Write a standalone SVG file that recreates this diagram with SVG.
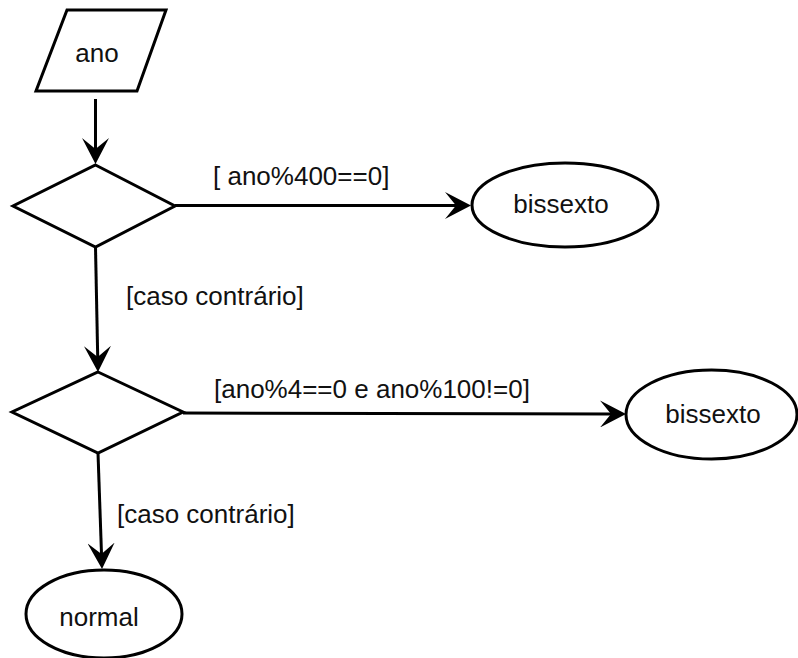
<svg xmlns="http://www.w3.org/2000/svg" width="798" height="658" viewBox="0 0 798 658">
  <style>
    .shape { fill: #ffffff; stroke: #000000; stroke-width: 3; stroke-linejoin: miter; }
    .edge { fill: none; stroke: #000000; stroke-width: 3; marker-end: url(#arrow); }
    text { font-family: "Liberation Sans", Arial, sans-serif; font-size: 26px; fill: #111111; }
    .c { text-anchor: middle; }
  </style>
  <defs>
    <marker id="arrow" viewBox="0 0 26 27" refX="11" refY="13.5" markerWidth="26" markerHeight="27" markerUnits="userSpaceOnUse" orient="auto">
      <path d="M0,0 L26,13.5 L0,27 L11,13.5 Z" fill="#000000"/>
    </marker>
  </defs>
  <rect width="798" height="658" fill="#ffffff"/>

  <!-- connectors -->
  <g id="connectors">
    <line class="edge" x1="95.5" y1="99" x2="95.5" y2="149"/>
    <line class="edge" x1="175" y1="205.5" x2="456" y2="205.5"/>
    <line class="edge" x1="95.5" y1="247" x2="97.7" y2="357"/>
    <line class="edge" x1="183" y1="413" x2="611" y2="414"/>
    <line class="edge" x1="98" y1="453" x2="101.5" y2="554"/>
    <text x="213" y="185">[ ano%400==0]</text>
    <text x="126" y="305">[caso contrário]</text>
    <text x="214" y="398">[ano%4==0 e ano%100!=0]</text>
    <text x="117" y="523">[caso contrário]</text>
  </g>

  <!-- input -->
  <g id="input-ano">
    <polygon class="shape" points="67,10 166,10 137,91 36,91"/>
    <text class="c" x="97" y="62">ano</text>
  </g>

  <!-- decisions -->
  <g id="decision-400">
    <polygon class="shape" points="95.5,165 175,206 95.5,247 13,206"/>
  </g>
  <g id="decision-4-100">
    <polygon class="shape" points="98,372 183,412 98,453 12,412"/>
  </g>

  <!-- outcomes -->
  <g id="result-bissexto-1">
    <ellipse class="shape" cx="565" cy="205" rx="93" ry="42"/>
    <text class="c" x="561" y="213">bissexto</text>
  </g>
  <g id="result-bissexto-2">
    <ellipse class="shape" cx="711.5" cy="414.5" rx="85.5" ry="44.5"/>
    <text class="c" x="713" y="423">bissexto</text>
  </g>
  <g id="result-normal">
    <ellipse class="shape" cx="104" cy="614" rx="78" ry="44"/>
    <text class="c" x="99" y="626">normal</text>
  </g>
</svg>
